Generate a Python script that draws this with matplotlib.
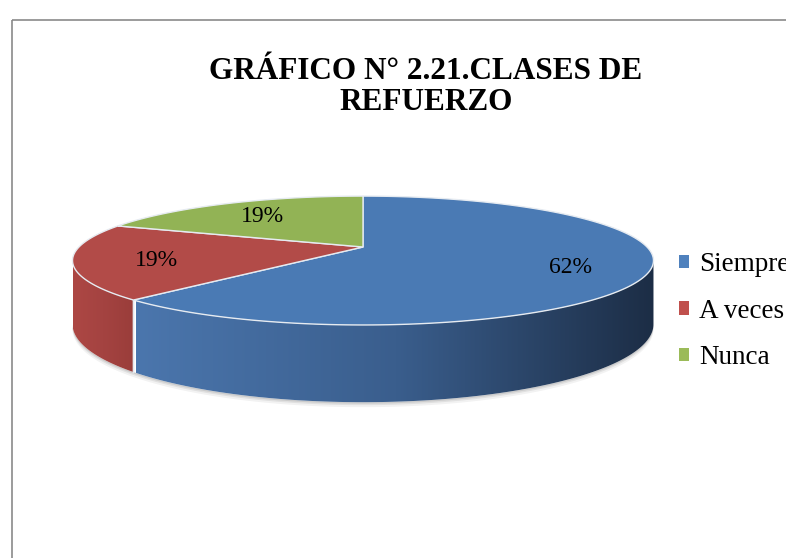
import numpy as np
import matplotlib.pyplot as plt
from matplotlib.patches import Polygon, Patch, Rectangle
from matplotlib.colors import LinearSegmentedColormap

# Data
categories = ["Siempre", "A veces", "Nunca"]
values = [62, 19, 19]
pct_labels = ["62%", "19%", "19%"]
title_lines = ["GRÁFICO N° 2.21.CLASES DE", "REFUERZO"]

top_colors = ["#4a7ab4", "#b24b48", "#92b355"]
legend_colors = ["#4f81bd", "#c0504d", "#9bbb59"]
side_colors = [["#4b76ad", "#3a5e8d", "#1c2d45"],
               ["#ad4744", "#a44341", "#9a3d3a"],
               ["#86a34e", "#7a9546", "#6a823c"]]

# Geometry of the 3D pie (pixel space)
W, H = 786, 558
CX, CY = 363, 247
A, B = 284, 61.6
K = 0.21        # perspective
D = 61          # depth of the pie
LABEL_R = 0.73
SIL = np.degrees(np.arccos(-K))   # silhouette angle of the rim


def proj(theta, r=1.0):
    t = np.radians(theta)
    X = r * np.sin(t)
    Y = r * np.cos(t)
    s = 1.0 / (1.0 + K * Y)
    return CX + A * X * s, CY - B * Y * s, D * s


fig = plt.figure(figsize=(W / 100, H / 100), dpi=100)
ax = fig.add_axes([0, 0, 1, 1])
ax.set_xlim(0, W)
ax.set_ylim(H, 0)
ax.axis("off")

# chart frame (only left and top edges are inside the crop)
ax.add_patch(Rectangle((12, 20), W + 20, H + 20, fill=False,
                       edgecolor="#8a8a8a", lw=1.2, zorder=0))

total = float(sum(values))
bounds = np.concatenate([[0], np.cumsum(values) / total * 360.0])

# faint shadow under the pie
ts = np.linspace(SIL, 360 - SIL, 200)
for off, alpha in [(5, 0.05), (3, 0.07), (1.5, 0.09)]:
    x, y, d = proj(ts)
    ax.fill(np.r_[x, x[::-1]], np.r_[y + d + off, (y + d)[::-1]],
            color="black", alpha=alpha, lw=0, zorder=1)

# sides (front half only, up to the silhouette)
for i in range(len(values)):
    t0, t1 = max(bounds[i], SIL), min(bounds[i + 1], 360 - SIL)
    if t1 <= t0:
        continue
    ts = np.linspace(t0, t1, 200)
    x, y, d = proj(ts)
    poly = Polygon(np.c_[np.r_[x, x[::-1]], np.r_[y, (y + d)[::-1]]],
                   closed=True, facecolor="none", edgecolor="none")
    ax.add_patch(poly)
    cmap = LinearSegmentedColormap.from_list("side%d" % i, side_colors[i])
    grad = np.linspace(0, 1, 256).reshape(1, -1)
    xmin, xmax = x.min(), x.max()
    if i == 0:
        xmin, xmax = CX - A * 0.8, CX + A * 1.03
    im = ax.imshow(grad, cmap=cmap, aspect="auto",
                   extent=[xmin, xmax, CY + 2 * D + 40, CY - 10], zorder=2)
    im.set_clip_path(poly)
    # light vertical edge at the slice boundary
    for t in (t0, t1):
        if SIL < t < 360 - SIL:
            xe, ye, de = proj(t)
            ax.plot([xe, xe], [ye, ye + de], color="#e4e9ef", lw=1.0, zorder=3)

# top faces
for i in range(len(values)):
    ts = np.linspace(bounds[i], bounds[i + 1], 200)
    x, y, _ = proj(ts)
    ax.add_patch(Polygon(np.c_[np.r_[CX, x], np.r_[CY, y]], closed=True,
                         facecolor=top_colors[i], edgecolor="#e6ebf1",
                         lw=1.0, zorder=4))

# percentage labels
for i, lab in enumerate(pct_labels):
    mid = (bounds[i] + bounds[i + 1]) / 2
    x, y, _ = proj(mid, LABEL_R)
    ax.text(x + 3, y + 3, lab, ha="center", va="center", fontsize=17,
            family="Liberation Serif", color="black", zorder=5)

# title, two centred lines
for line, base in zip(title_lines, [79, 110]):
    ax.text(426, base, line, ha="center", va="baseline", fontsize=22.5,
            fontweight="bold", family="Liberation Serif")

# legend
handles = [Patch(facecolor=c, edgecolor="none") for c in legend_colors]
ax.legend(handles, categories, loc="upper left",
          bbox_to_anchor=(679 / W, 1 - 252 / H), frameon=False,
          prop={"family": "Liberation Serif", "size": 19.5},
          handlelength=0.37, handleheight=0.37, handletextpad=0.37,
          labelspacing=0.8, borderaxespad=0, borderpad=0)

fig.savefig("out.png", dpi=100)
